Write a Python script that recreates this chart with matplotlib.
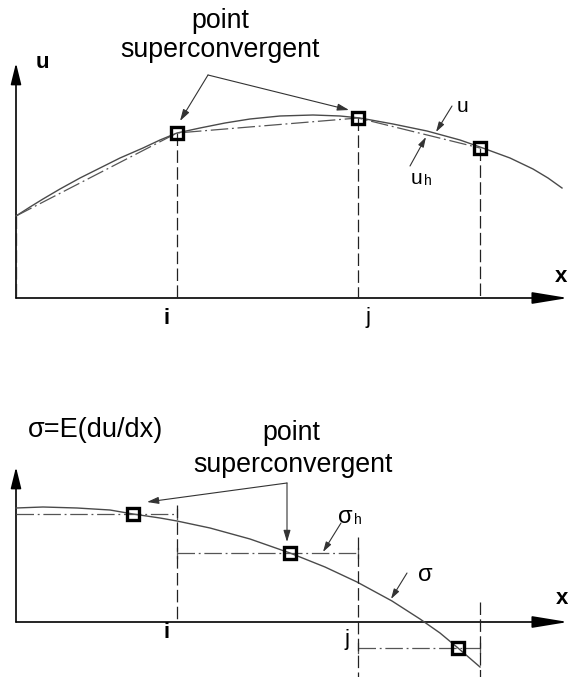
import matplotlib
matplotlib.use("Agg")
import matplotlib.pyplot as plt
from matplotlib.patches import FancyArrowPatch
import numpy as np

plt.rcParams['font.family'] = ['Liberation Sans', 'DejaVu Sans']

# ---- data (diagram units = pixels, values are heights above each x axis) ----
# top panel: exact solution u and linear FE solution u_h
u_x = [16, 30, 43, 60, 80, 100, 120, 143, 160, 177, 200, 225, 250, 280, 313,
       340, 360, 393, 427, 460, 480, 510, 533, 548, 562]
u_val = [82, 91, 99, 109, 120, 130, 140, 150, 158, 165, 170, 175, 179, 182, 183,
         182, 180, 174, 167, 158, 151, 140, 129, 120, 110]
node_x = [16, 177, 358, 480]
uh_val = [82, 165, 180, 150]
u_super_x = [177, 358, 480]
u_super_val = [165, 180, 150]

# bottom panel: stress sigma and element-wise constant sigma_h
s_x = [16, 43, 77, 110, 133, 160, 177, 210, 250, 290, 325, 357, 392, 420, 440,
       458, 480]
s_val = [114, 115, 114, 112, 108, 104, 101, 94, 83, 69, 55, 40, 21, 3, -11,
         -26, -45]
sh_val = [108, 69, -26]
s_super_x = [133, 290, 458]
s_super_val = [108, 69, -26]

TOP0 = 298   # y pixel of top x axis
BOT0 = 622   # y pixel of bottom x axis
X0 = 16

fig = plt.figure(figsize=(5.68, 6.77), dpi=100)
ax = fig.add_axes([0, 0, 1, 1])
ax.set_xlim(0, 568)
ax.set_ylim(677, 0)
ax.axis("off")

curve_c = "#4a4a4a"
fe_c = "#555555"
dash_c = "#222222"
lead_c = "#333333"


def arrow(p0, p1, hl=0.6, hw=0.2, ms=20, lw=1.0, color="black"):
    a = FancyArrowPatch(p0, p1, arrowstyle="-|>,head_length=%s,head_width=%s" % (hl, hw),
                        mutation_scale=ms, lw=lw, color=color, shrinkA=0, shrinkB=0)
    ax.add_patch(a)


def dashed(x, y0, y1):
    ax.plot([x, x], [y0, y1], color=dash_c, lw=0.9, dashes=(10, 3.5))


# ================= top panel =================
arrow((X0, TOP0), (X0, 63), hl=0.65, hw=0.16, ms=20, lw=1.2)
arrow((X0, TOP0), (568, TOP0), hl=1.1, hw=0.18, ms=20, lw=1.2)

ax.plot(u_x, TOP0 - np.array(u_val), color=curve_c, lw=1.0)
ax.plot(node_x, TOP0 - np.array(uh_val), color=fe_c, lw=0.9,
        dashes=(14, 3, 1.5, 3))

for xn, v in zip(node_x, uh_val):
    dashed(xn, TOP0 - v, TOP0)

ax.plot(u_super_x, TOP0 - np.array(u_super_val), ls="none", marker="s", ms=8,
        mfc="none", mec="black", mew=2.4)

ax.text(42, 62, "u", fontsize=16, fontweight="bold", ha="center", va="center")
ax.text(561, 277, "x", fontsize=16, fontweight="bold", ha="center", va="center")
ax.text(167, 318, "i", fontsize=16, fontweight="bold", ha="center", va="center")
ax.text(368, 318, "j", fontsize=16, ha="center", va="center")

ax.text(220, 28, "point", fontsize=19.3, ha="center", va="baseline")
ax.text(220, 57, "superconvergent", fontsize=19.3, ha="center", va="baseline")
arrow((208, 75), (180, 121), hl=0.5, hw=0.15, ms=14, lw=0.8, color=lead_c)
arrow((208, 75), (349, 110), hl=0.5, hw=0.15, ms=14, lw=0.8, color=lead_c)

ax.text(463, 107, "u", fontsize=15, ha="center", va="center")
arrow((452, 106), (436, 132), hl=0.5, hw=0.15, ms=12, lw=0.8, color=lead_c)
ax.text(416, 178, "u", fontsize=15, ha="center", va="center")
ax.text(428, 181, "h", fontsize=10, ha="center", va="center")
arrow((410, 166), (426, 137), hl=0.5, hw=0.15, ms=12, lw=0.8, color=lead_c)

# ================= bottom panel =================
arrow((X0, BOT0), (X0, 467), hl=0.65, hw=0.16, ms=20, lw=1.2)
arrow((X0, BOT0), (568, BOT0), hl=1.1, hw=0.18, ms=20, lw=1.2)

ax.plot(s_x, BOT0 - np.array(s_val), color=curve_c, lw=1.0)
for k, v in enumerate(sh_val):
    xa, xb = node_x[k], node_x[k + 1]
    ax.plot([xa, xb], [BOT0 - v, BOT0 - v], color=fe_c, lw=0.9,
            dashes=(14, 3, 1.5, 3))
    ax.plot([xb, xb], [BOT0 - v - 5, BOT0 - v + 5], color=fe_c, lw=0.9)
    if k > 0:
        ax.plot([xa, xa], [BOT0 - v - 5, BOT0 - v + 5], color=fe_c, lw=0.9)

dashed(177, 505, BOT0)
dashed(358, 537, 677)
dashed(480, 602, 677)

ax.plot(s_super_x, BOT0 - np.array(s_super_val), ls="none", marker="s", ms=8,
        mfc="none", mec="black", mew=2.4)

ax.text(28, 437, "σ=E(du/dx)", fontsize=19.5, ha="left", va="baseline")
ax.text(562, 598, "x", fontsize=16, fontweight="bold", ha="center", va="center")
ax.text(167, 633, "i", fontsize=16, fontweight="bold", ha="center", va="center")
ax.text(347, 640, "j", fontsize=16, ha="center", va="center")

ax.text(291, 440, "point", fontsize=19.3, ha="center", va="baseline")
ax.text(293, 472, "superconvergent", fontsize=19.3, ha="center", va="baseline")
arrow((287, 483), (147, 502), hl=0.5, hw=0.15, ms=14, lw=0.8, color=lead_c)
arrow((287, 483), (287, 542), hl=0.5, hw=0.15, ms=14, lw=0.8, color=lead_c)

ax.text(345, 517, "σ", fontsize=17, ha="center", va="center")
ax.text(358, 520, "h", fontsize=10, ha="center", va="center")
arrow((341, 523), (323, 552), hl=0.5, hw=0.15, ms=12, lw=0.8, color=lead_c)
ax.text(425, 575, "σ", fontsize=17, ha="center", va="center")
arrow((407, 573), (391, 599), hl=0.5, hw=0.15, ms=12, lw=0.8, color=lead_c)

fig.savefig("out.png", dpi=100)
